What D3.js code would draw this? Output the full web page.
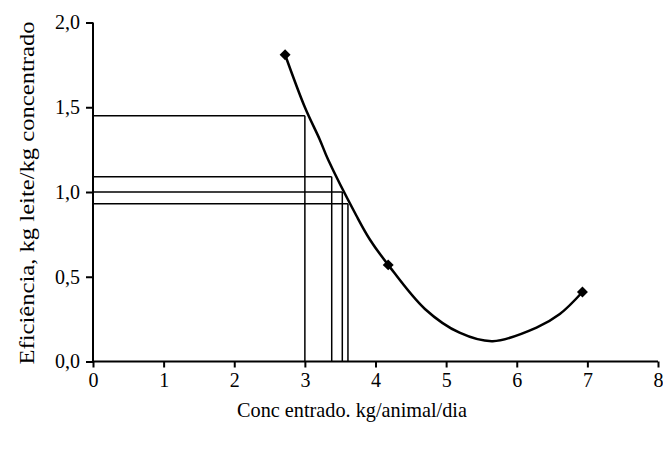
<!DOCTYPE html>
<html>
<head>
<meta charset="utf-8">
<script src="https://cdn.jsdelivr.net/npm/d3@7"></script>
<style>
  body { margin: 0; background: #fff; }
  text { font-family: "Liberation Serif", "Times New Roman", serif; fill: #000; }
</style>
</head>
<body>
<script>
// valores
var pontos = [[2.72, 1.81], [4.18, 0.57], [6.93, 0.41]];
var curva = [[2.72, 1.81], [3.0, 1.5], [3.21, 1.31], [3.33, 1.19], [3.73, 0.86], [3.92, 0.72],
             [4.18, 0.57], [4.7, 0.31], [5.19, 0.17], [5.66, 0.12], [6.28, 0.2], [6.61, 0.28], [6.93, 0.41]];
var refX = [3.0, 3.38, 3.53, 3.61];
var refY = [1.45, 1.09, 1.0, 0.93];
var xTicks = [0, 1, 2, 3, 4, 5, 6, 7, 8];
var yTicks = [0, 0.5, 1.0, 1.5, 2.0];

var w = 663;
var h = 452;
var svg = d3.select("body")
            .append("svg")
            .attr("width", w)
            .attr("height", h);

var xScale = d3.scaleLinear()
              .domain([0, 8])
              .range([93, 658]);

var yScale = d3.scaleLinear()
              .domain([0, 2])
              .range([361.5, 22.5]);

var fmt = function(d) { return d3.format(".1f")(d).replace(".", ","); };

var xAxis = d3.axisBottom(xScale)
              .tickValues(xTicks)
              .tickSize(6)
              .tickPadding(5)
              .tickFormat(d3.format("d"));
var yAxis = d3.axisLeft(yScale)
              .tickValues(yTicks)
              .tickSize(7)
              .tickPadding(6)
              .tickFormat(fmt);

// linhas de referencia
refX.forEach(function(x, i) {
  svg.append("line")
    .attr("x1", xScale(0)).attr("x2", xScale(x))
    .attr("y1", yScale(refY[i])).attr("y2", yScale(refY[i]))
    .attr("stroke", "#000").attr("stroke-width", 1.5);
  svg.append("line")
    .attr("x1", xScale(x)).attr("x2", xScale(x))
    .attr("y1", yScale(refY[i])).attr("y2", yScale(0))
    .attr("stroke", "#000").attr("stroke-width", 1.5);
});

var gx = svg.append("g")
    .attr("class", "axis")
    .attr("transform", "translate(0," + yScale(0) + ")")
    .call(xAxis);

var gy = svg.append("g")
    .attr("class", "axis")
    .attr("transform", "translate(" + xScale(0) + ",0)")
    .call(yAxis);

svg.selectAll(".axis .domain").attr("stroke", "#000").attr("stroke-width", 2);
svg.selectAll(".axis .tick line").attr("stroke", "#000").attr("stroke-width", 2);
svg.selectAll(".axis text")
   .style("font-family", "'Liberation Serif', serif")
   .style("font-size", "20px")
   .attr("fill", "#000");
gy.select(".domain").attr("d", "M0," + yScale(2) + "V" + yScale(0));
gx.select(".domain").attr("d", "M" + xScale(0) + ",0H" + xScale(8));

var line = d3.line()
             .x(function(d) { return xScale(d[0]); })
             .y(function(d) { return yScale(d[1]); })
             .curve(d3.curveCatmullRom);

svg.append("path")
   .datum(curva)
   .attr("d", line)
   .attr("fill", "none")
   .attr("stroke", "#000")
   .attr("stroke-width", 2.5);

svg.selectAll(".ponto")
   .data(pontos)
   .enter()
   .append("path")
     .attr("class", "ponto")
     .attr("d", d3.symbol().type(d3.symbolSquare).size(60))
     .attr("transform", function(d) { return "translate(" + xScale(d[0]) + "," + yScale(d[1]) + ") rotate(45)"; })
     .attr("fill", "#000");

svg.append("text")
   .attr("x", 352)
   .attr("y", 417)
   .attr("text-anchor", "middle")
   .attr("textLength", 230)
   .attr("lengthAdjust", "spacingAndGlyphs")
   .style("font-size", "21px")
   .text("Conc entrado. kg/animal/dia");

svg.append("text")
   .attr("transform", "translate(34,193) rotate(-90)")
   .attr("text-anchor", "middle")
   .attr("textLength", 343)
   .attr("lengthAdjust", "spacingAndGlyphs")
   .style("font-size", "21px")
   .text("Eficiência, kg leite/kg concentrado");
</script>
</body>
</html>
